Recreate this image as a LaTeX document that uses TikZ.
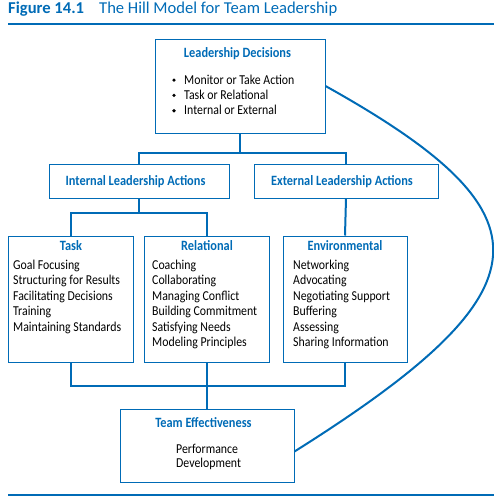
\documentclass[tikz,border=0pt]{standalone}
\usepackage{fontspec}
\setmainfont{Carlito}[FakeStretch=0.87]
\newfontfamily\titlefont{Carlito}
\usetikzlibrary{calc,positioning}
\definecolor{HillBlue}{RGB}{0,107,182}

\tikzset{
	box/.style={draw=HillBlue, line width=1pt, inner sep=0pt},
	head/.style={anchor=base, inner sep=0pt, text=HillBlue, font=\bfseries\fontsize{14.2}{15}\selectfont},
	item/.style={anchor=base west, inner sep=0pt, font=\fontsize{13.6}{15}\selectfont},
	link/.style={draw=HillBlue, line width=2pt},
	rule/.style={draw=HillBlue, line width=2.4pt}
}

\begin{document}
\begin{tikzpicture}[x=1pt, y=-1pt]
		\useasboundingbox (0,0) rectangle (494,504);
		% title and rules
		\node[anchor=base west, inner sep=0pt, text=HillBlue, font=\titlefont\fontsize{16.6}{18}\selectfont] (fig) at (8,13) {\textbf{Figure 14.1}\hspace{15pt}The Hill Model for Team Leadership};
		\coordinate (topL) at (8,24);
		\coordinate (topR) at (494,24);
		\coordinate (botL) at (8,495);
		\coordinate (botR) at (494,495);
		\draw[rule] (topL) -- (topR);
		\draw[rule] (botL) -- (botR);
		% boxes
		\node[box, minimum width=170, minimum height=94] (decide) at (240,86) {};
		\node[box, minimum width=180, minimum height=34] (internal) at (139,181) {};
		\node[box, minimum width=184, minimum height=34] (external) at (346,181) {};
		\node[box, minimum width=125, minimum height=126] (task) at (70.5,299) {};
		\node[box, minimum width=125, minimum height=126] (relational) at (207,299) {};
		\node[box, minimum width=124, minimum height=126] (environ) at (345,299) {};
		\node[box, minimum width=174, minimum height=73] (team) at (207,445.5) {};
		% headings
		\node[head] (decideHead) at (237.5,57) {Leadership Decisions};
		\node[head] (internalHead) at (135.5,185) {Internal Leadership Actions};
		\node[head] (externalHead) at (342,185) {External Leadership Actions};
		\node[head] (taskHead) at (71,250) {Task};
		\node[head] (relationalHead) at (207,250) {Relational};
		\node[head] (environHead) at (345,250) {Environmental};
		\node[head] (teamHead) at (203.5,427) {Team Effectiveness};
		% lists
		\foreach \txt [count=\i] in {Monitor or Take Action, Task or Relational, Internal or External}{
			\node[item] (decide\i) at (184,68.7+15.3*\i) {\txt};
			\fill[black] (174,64.8+15.3*\i) circle (1.8);
		}
		\foreach \txt [count=\i] in {Goal Focusing, Structuring for Results, Facilitating Decisions, Training, Maintaining Standards}
			\node[item] (task\i) at (13,253.8+15.5*\i) {\txt};
		\foreach \txt [count=\i] in {Coaching, Collaborating, Managing Conflict, Building Commitment, Satisfying Needs, Modeling Principles}
			\node[item] (relational\i) at (152,253.8+15.5*\i) {\txt};
		\foreach \txt [count=\i] in {Networking, Advocating, Negotiating Support, Buffering, Assessing, Sharing Information}
			\node[item] (environ\i) at (293,253.8+15.5*\i) {\txt};
		\node[item] (perform) at (176,453) {Performance};
		\node[item] (develop) at (176,467.5) {Development};
		% connectors
		\coordinate (split1) at ($(decide.south)+(0,19)$);
		\coordinate (split2) at ($(internal.south)+(0,14)$);
		\coordinate (join) at ($(relational.south)+(0,23)$);
		\draw[link] (decide.south) -- (split1);
		\draw[link] (internal.north) |- (split1) -| (external.north);
		\draw[link] (internal.south) -- (split2);
		\draw[link] (task.north) |- (split2) -| (relational.north);
		\draw[link] (external.south) -- (environ.north);
		\draw[link] (task.south) |- (join) -| (environ.south);
		\draw[link] (relational.south) -- (team.north);
		\draw[link] (decide.east) .. controls (555,214) and (553,289) .. ($(team.east)+(0,6)$);
	\end{tikzpicture}
\end{document}
